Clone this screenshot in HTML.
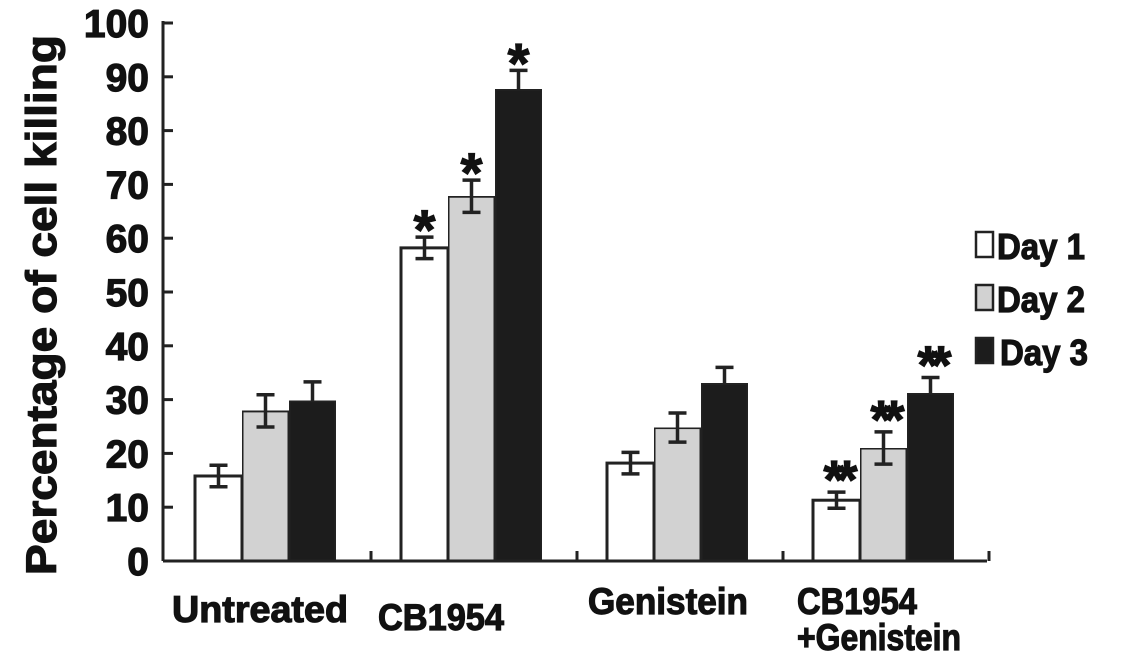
<!DOCTYPE html>
<html><head><meta charset="utf-8"><style>
html,body{margin:0;padding:0;background:#fff;}
svg{display:block;}
text{font-family:"Liberation Sans",Arial,sans-serif;font-weight:bold;fill:#111;stroke:#111;stroke-width:1.2;}
</style></head>
<body>
<svg id="chart" width="1134" height="665" viewBox="0 0 1134 665" xmlns="http://www.w3.org/2000/svg">
<defs>
<filter id="noise" x="0" y="0" width="100%" height="100%">
<feTurbulence type="fractalNoise" baseFrequency="0.08" numOctaves="2" seed="3"/>
<feColorMatrix type="matrix" values="0 0 0 0 0  0 0 0 0 0  0 0 0 0 0  0 0 0 0.25 0"/>
<feComposite in2="SourceGraphic" operator="in"/>
<feMerge><feMergeNode in="SourceGraphic"/></feMerge>
</filter>
</defs>
<g id="axes"></g>
<g id="bars"></g>
<g id="legend"></g>
</svg>
<script>
const categories = ["Untreated", "CB1954", "Genistein", "CB1954\n+Genistein"];
const seriesNames = ["Day 1", "Day 2", "Day 3"];
const day1 = [15.8, 58.2, 18.2, 11.3];
const day2 = [27.9, 67.8, 24.8, 21.0];
const day3 = [29.8, 87.7, 33.0, 31.2];
const err1 = [2.0, 2.0, 2.0, 1.5];
const err2 = [3.0, 3.0, 2.7, 3.0];
const err3 = [3.5, 3.5, 3.0, 2.9];
const marks1 = ["", "*", "", "**"];
const marks2 = ["", "*", "", "**"];
const marks3 = ["", "*", "", "**"];
const yTicks = [0,10,20,30,40,50,60,70,80,90,100];

const NS = "http://www.w3.org/2000/svg";
const X0 = 163, Y0 = 561, Y100 = 23;
const yScale = v => Y0 - (v / 100) * (Y0 - Y100);
const groupStart = i => 195 + 206 * i;
const BW = 47;
const xBar = (i, s) => groupStart(i) + s * BW;
const fills = ["#ffffff", "#d2d2d2", "#1c1c1c"];

function mk(tag, attrs, parent) {
  const e = document.createElementNS(NS, tag);
  for (const k in attrs) e.setAttribute(k, attrs[k]);
  parent.appendChild(e);
  return e;
}
const axes = document.getElementById("axes");
const bars = document.getElementById("bars");
const legend = document.getElementById("legend");

let yl = mk("line", {x1:X0, y1:Y100-2, x2:X0, y2:Y0, stroke:"#222", "stroke-width":3}, axes);


let xl = mk("line", {x1:X0, y1:Y0, x2:987, y2:Y0, stroke:"#222", "stroke-width":3}, axes);


yTicks.forEach(v => {
  const y = yScale(v);
  const t = mk("line", {x1:X0, y1:y, x2:X0+10, y2:y, stroke:"#222", "stroke-width":3}, axes);
  
  
  const lb = mk("text", {x:149, y:y+14, "text-anchor":"end", "font-size":39}, axes);
  lb.textContent = v;
  
  
});
for (let i = 1; i <= categories.length; i++) {
  const x = groupStart(i) - 30;
  const t = mk("line", {x1:x, y1:Y0-10, x2:x, y2:Y0, stroke:"#222", "stroke-width":3}, axes);
  
  
}
const yt = mk("text", {x:0, y:0, "text-anchor":"middle", "font-size":43, textLength:540, lengthAdjust:"spacingAndGlyphs", transform:"translate(56,305) rotate(-90)"}, axes);
yt.textContent = "Percentage of cell killing";



const labelX = [172, 378, 588, 797];
const labelY = [622, 630, 614, 614];
const labelW = [176, 126, 160, 120];
categories.forEach((c, i) => {
  const lines = c.split("\n");
  lines.forEach((ln, j) => {
    const w = j === 0 ? labelW[i] : 164;
    const t = mk("text", {x:labelX[i], y:labelY[i] + j*36, "font-size":37, textLength:w, lengthAdjust:"spacingAndGlyphs"}, axes);
    t.textContent = ln;
    
    
  });
});

const series = [day1, day2, day3];
const errs = [err1, err2, err3];
const marks = [marks1, marks2, marks3];
series.forEach((vals, s) => {
  vals.forEach((v, i) => {
    const x = xBar(i, s), y = yScale(v);
    const r = mk("rect", {x:x, y:y, width:BW, height:Y0-y, fill:fills[s], stroke:"#222", "stroke-width":3, filter: s>0 ? "url(#noise)" : ""}, bars);
    
    
    const cx = x + BW/2, yt1 = yScale(v + errs[s][i]), yb = yScale(v - errs[s][i]);
    const e = mk("path", {d:`M${cx},${yt1}V${s===2?y:yb}M${cx-9},${yt1}H${cx+9}` + (s===2?"":`M${cx-9},${yb}H${cx+9}`), stroke:"#222", "stroke-width":3.5, fill:"none"}, bars);
    
    
    const m = marks[s][i];
    if (m) {
      const st = mk("text", {x:cx, y:yt1 + (m.length>1 ? 6 : 12), "text-anchor":"middle", "font-size":m.length>1 ? 54 : 56, "letter-spacing":m.length>1 ? -8 : 0}, bars);
      st.textContent = m;
      
      
    }
  });
});

const legY = [232, 285, 338];
seriesNames.forEach((n, s) => {
  const r = mk("rect", {x:976, y:legY[s], width:17, height:25, fill:fills[s], stroke:"#222", "stroke-width":2.5}, legend);
  
  
  const t = mk("text", {x: s===2 ? 1000 : 997, y:legY[s]+27, "font-size":36, textLength:88, lengthAdjust:"spacingAndGlyphs"}, legend);
  t.textContent = n;
  
  
});
</script>
</body></html>
